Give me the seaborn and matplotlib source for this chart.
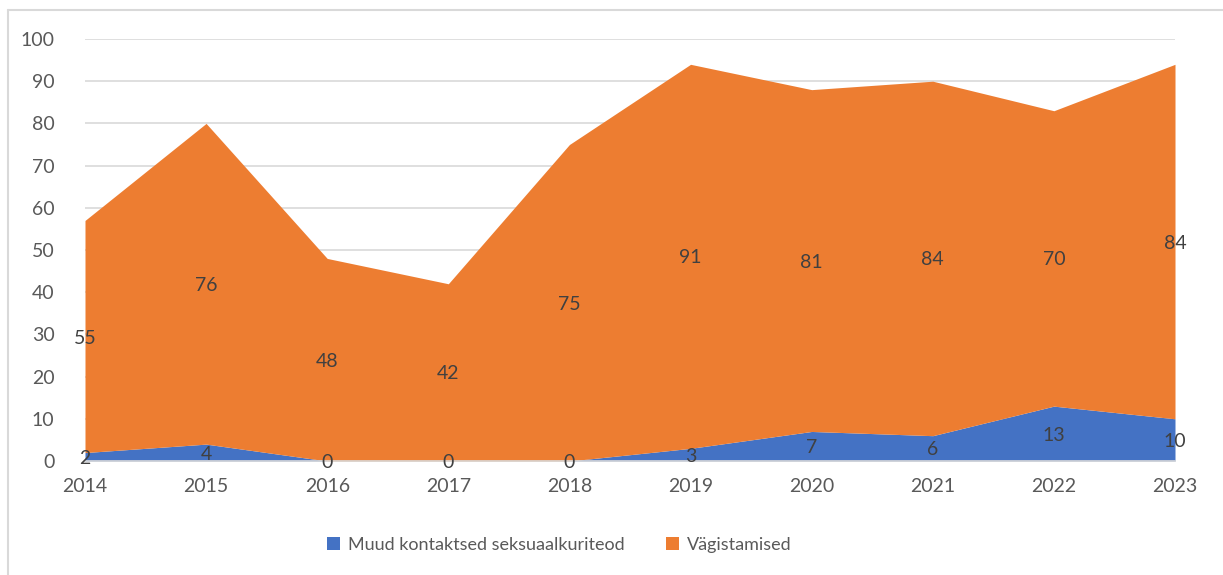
import matplotlib
matplotlib.use("Agg")
import matplotlib.pyplot as plt
import seaborn as sns
from matplotlib.lines import Line2D
from matplotlib.patches import Patch

years = [2014, 2015, 2016, 2017, 2018, 2019, 2020, 2021, 2022, 2023]
muud = [2, 4, 0, 0, 0, 3, 7, 6, 13, 10]
vagistamised = [55, 76, 48, 42, 75, 91, 81, 84, 70, 84]
series_names = ["Muud kontaktsed seksuaalkuriteod", "Vägistamised"]

sns.set_theme(style="white")
plt.rcParams["font.family"] = ["Lato", "DejaVu Sans"]

colors = ["#4472C4", "#ED7D31"]
text_col = "#595959"
label_col = "#404040"
fs = 14

fig = plt.figure(figsize=(12.23, 5.75), dpi=100)
ax = fig.add_axes([85 / 1223, 1 - 461 / 575, (1175 - 85) / 1223, (461 - 39) / 575])

ax.stackplot(years, muud, vagistamised, colors=colors, linewidth=0, zorder=2)

ax.set_xlim(years[0], years[-1])
ax.set_ylim(0, 100)
ax.set_yticks(range(0, 101, 10))
ax.set_xticks(years)
ax.grid(axis="y", color="#D9D9D9", linewidth=1.2, zorder=0)
for s in ["top", "right", "left"]:
    ax.spines[s].set_visible(False)
ax.spines["bottom"].set_color("#D9D9D9")
ax.spines["bottom"].set_linewidth(1.2)
ax.spines["bottom"].set_zorder(3)
ax.tick_params(axis="x", length=6, color="#D9D9D9", width=1.2, pad=6,
               labelsize=fs, labelcolor=text_col)
ax.tick_params(axis="y", length=0, pad=22, labelsize=fs, labelcolor=text_col)

# data labels in the middle of each band
for x, a, b in zip(years, muud, vagistamised):
    ax.text(x, a / 2, str(a), ha="center", va="center_baseline", fontsize=fs,
            color=label_col, zorder=4)
    ax.text(x, a + b / 2, str(b), ha="center", va="center_baseline", fontsize=fs,
            color=label_col, zorder=4)

handles = [Patch(facecolor=c, edgecolor="none") for c in colors]
fig.legend(handles, series_names, loc="center", bbox_to_anchor=(559 / 1223, 1 - 545 / 575),
           ncol=2, frameon=False, fontsize=13, labelcolor=text_col,
           handlelength=0.75, handleheight=0.75, handletextpad=0.4, columnspacing=2.3)

# outer chart border (top and left visible)
fig.add_artist(Line2D([8 / 1223, 1], [1 - 10 / 575, 1 - 10 / 575],
                      transform=fig.transFigure, color="#D9D9D9", linewidth=1.5))
fig.add_artist(Line2D([8 / 1223, 8 / 1223], [0, 1 - 10 / 575],
                      transform=fig.transFigure, color="#D9D9D9", linewidth=1.5))

fig.savefig("out.png", dpi=100)
